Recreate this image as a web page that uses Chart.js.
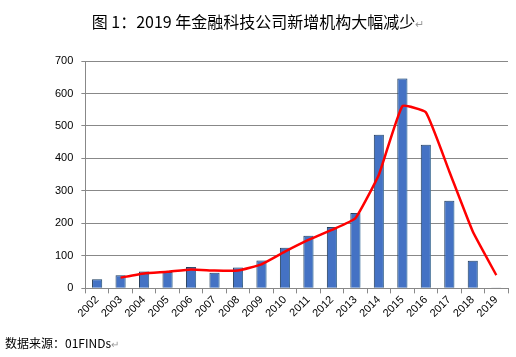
<!DOCTYPE html>
<html><head><meta charset="utf-8">
<script src="https://cdn.jsdelivr.net/npm/chart.js@4/dist/chart.umd.min.js"></script>
<style>
html,body{margin:0;padding:0;background:#fff;}
#wrap{position:relative;width:516px;height:357px;}
#title{position:absolute;left:0;top:9px;width:516px;text-align:center;font:16px "Noto Sans CJK SC","Liberation Sans",sans-serif;color:#000;}
#src{position:absolute;left:5px;top:334px;font:12px "Noto Sans CJK SC","Liberation Sans",sans-serif;color:#000;}
canvas{position:absolute;left:0;top:0;}
</style></head>
<body><div id="wrap">
<canvas id="c" width="516" height="357"></canvas>
<div id="title">图 1：2019 年金融科技公司新增机构大幅减少<span style="color:#999;font-size:11px">↵</span></div>
<div id="src">数据来源：01FINDs<span style="color:#999;font-size:10px">↵</span></div>
</div>
<script>
const years = ["2002","2003","2004","2005","2006","2007","2008","2009","2010","2011","2012","2013","2014","2015","2016","2017","2018","2019"];
const newOrgs = [28,40,52,50,66,48,64,86,125,162,189,232,473,646,442,270,85,3];
const trend = [null,33,46,51,58,55,55,74,113,149,180,216,350,561,542,360,175,41];
const yTicks = [0,100,200,300,400,500,600,700];

const glow = {
  id:'glow',
  beforeDatasetDraw(chart,args){
    if(args.index===1){chart.ctx.save();chart.ctx.shadowColor='rgba(120,180,230,0.7)';chart.ctx.shadowBlur=6;chart.ctx.shadowOffsetX=3;chart.ctx.shadowOffsetY=0;}
  },
  afterDatasetDraw(chart,args){ if(args.index===1){chart.ctx.restore();} }
};

new Chart(document.getElementById('c'),{
  type:'bar',
  data:{labels:years,datasets:[
    {type:'line',data:trend,borderColor:'#FF0000',borderWidth:2.5,pointRadius:0,tension:0.12,fill:false,order:0},
    {type:'bar',data:newOrgs,backgroundColor:'#4472C4',borderColor:'#1F3550',borderWidth:1,barPercentage:0.43,categoryPercentage:1,order:1}
  ]},
  options:{
    responsive:false,animation:false,
    layout:{padding:{top:61,right:8,left:47,bottom:37}},
    plugins:{legend:{display:false},tooltip:{enabled:false}},
    scales:{
      x:{grid:{drawOnChartArea:false,tickLength:5,color:'#888',offset:true},border:{color:'#888'},
         ticks:{maxRotation:45,minRotation:45,font:{family:'Liberation Sans',size:11},color:'#000',padding:0}},
      y:{min:0,max:700,afterBuildTicks(s){s.ticks=yTicks.map(v=>({value:v}));},
         grid:{color:'#888',tickLength:4},border:{color:'#888'},
         ticks:{font:{family:'Liberation Sans',size:11},color:'#000',padding:8}}
    }
  },
  plugins:[glow]
});
</script>
</body></html>
